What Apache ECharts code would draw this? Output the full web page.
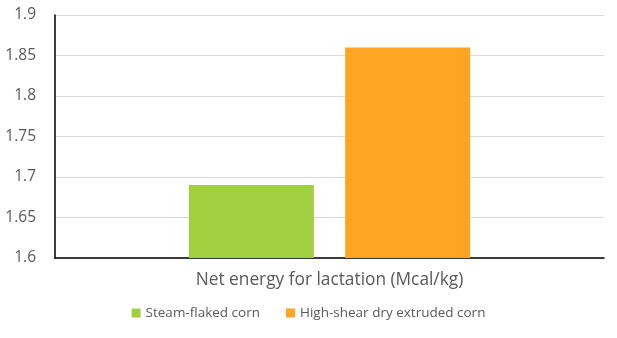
<!DOCTYPE html>
<html><head><meta charset="utf-8">
<script src="https://cdn.jsdelivr.net/npm/echarts@6/dist/echarts.min.js"></script>
<style>html,body{margin:0;padding:0;background:#fff}#c{width:617px;height:338px}</style>
</head><body><div id="c"></div>
<script>
const categories = ["Net energy for lactation (Mcal/kg)"];
const seriesNames = ["Steam-flaked corn", "High-shear dry extruded corn"];
const steamFlaked = [1.69];
const extruded = [1.86];
const yTicks = [1.6, 1.65, 1.7, 1.75, 1.8, 1.85, 1.9];

const font = '"Open Sans", sans-serif';
const chart = echarts.init(document.getElementById('c'), null, {renderer: 'canvas'});
chart.setOption({
  animation: false,
  backgroundColor: '#fff',
  grid: {left: 55, right: 13, top: 15, bottom: 80, containLabel: false},
  legend: {
    bottom: 13, left: 'center', itemWidth: 9, itemHeight: 9, itemGap: 26,
    icon: 'rect',
    textStyle: {color: '#595959', fontSize: 13.5, fontFamily: font},
    data: seriesNames
  },
  xAxis: {
    type: 'category', data: categories,
    axisLine: {lineStyle: {color: '#000', width: 1.5}},
    axisTick: {show: false},
    axisLabel: {color: '#595959', fontSize: 17.3, fontFamily: font, margin: 14}
  },
  yAxis: {
    type: 'value', min: yTicks[0], max: yTicks[yTicks.length - 1], interval: 0.05,
    axisLine: {show: true, lineStyle: {color: '#000', width: 1.5}},
    axisTick: {show: false},
    splitLine: {lineStyle: {color: '#d9d9d9', width: 1}},
    axisLabel: {color: '#595959', fontSize: 15.5, fontFamily: font, margin: 19,
      formatter: v => String(Math.round(v * 100) / 100)}
  },
  series: [
    {name: seriesNames[0], type: 'bar', data: steamFlaked, barWidth: 125, barGap: '25%',
     itemStyle: {color: '#A0D040'}},
    {name: seriesNames[1], type: 'bar', data: extruded, barWidth: 125,
     itemStyle: {color: '#FFA523'}}
  ]
});
</script></body></html>
